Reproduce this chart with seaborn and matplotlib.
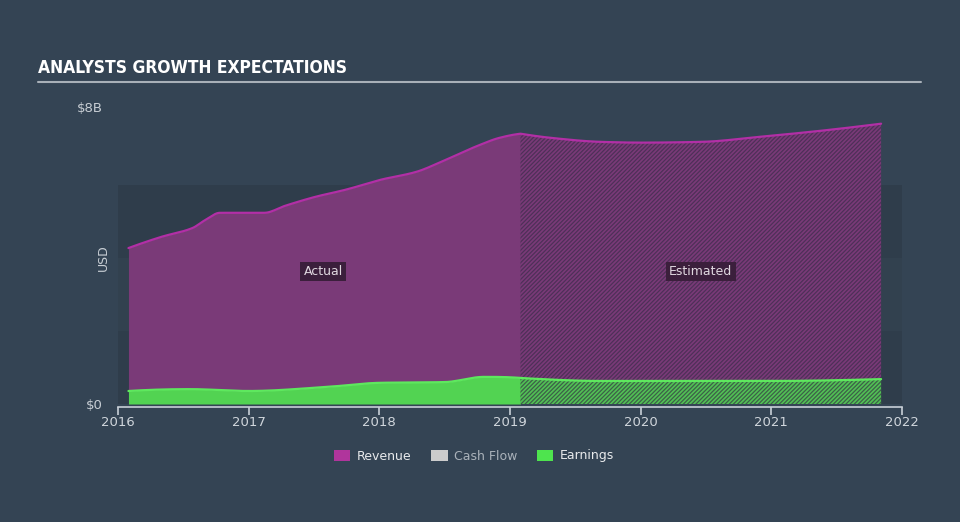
import numpy as np
import pandas as pd
import matplotlib
matplotlib.use("Agg")
import matplotlib.pyplot as plt
import seaborn as sns
from matplotlib.patches import Patch

# ---- data (values in $B) ----
rev_years = [2016.08, 2016.33, 2016.57, 2016.67, 2016.78, 2016.93, 2017.12, 2017.28,
             2017.51, 2017.74, 2018.01, 2018.28, 2018.51, 2018.77, 2018.92, 2019.08]
rev_vals = [4.20, 4.50, 4.74, 4.96, 5.15, 5.15, 5.15, 5.34,
            5.58, 5.77, 6.04, 6.25, 6.58, 6.98, 7.17, 7.28]
rev_est_years = [2019.08, 2019.31, 2019.70, 2020.00, 2020.46, 2020.92, 2021.38, 2021.84]
rev_est_vals = [7.28, 7.17, 7.06, 7.04, 7.06, 7.20, 7.36, 7.55]

earn_years = [2016.08, 2016.55, 2017.0, 2017.6, 2018.0, 2018.5, 2018.8, 2019.08]
earn_vals = [0.35, 0.40, 0.35, 0.46, 0.57, 0.59, 0.73, 0.70]
earn_est_years = [2019.08, 2019.7, 2020.5, 2021.0, 2021.84]
earn_est_vals = [0.70, 0.62, 0.62, 0.62, 0.67]

x_ticks = [2016, 2017, 2018, 2019, 2020, 2021, 2022]
legend_labels = ["Revenue", "Cash Flow", "Earnings"]

BG = "#344454"
BAND = "#2f3d4b"
REV_FILL = "#7a3a78"
REV_LINE = "#b22fa6"
EARN_FILL = "#52d352"
EARN_LINE = "#5ee85e"

sns.set_theme(style="dark")
plt.rcParams["font.family"] = ["DejaVu Sans"]
plt.rcParams["hatch.linewidth"] = 0.9

fig = plt.figure(figsize=(9.6, 5.22), dpi=100, facecolor=BG)
ax = fig.add_axes([118/960, (522-404)/522, 784/960, 297/522])
ax.set_facecolor(BG)

def smooth(xs, ys, n=200):
    xs = np.asarray(xs); ys = np.asarray(ys)
    xx = np.linspace(xs[0], xs[-1], n)
    s = pd.Series(ys, index=xs)
    s = s.reindex(np.union1d(xs, xx)).interpolate(method="pchip")
    return xx, s.loc[xx].values

# bands
ax.axhspan(0, 1.97, color=BAND, zorder=0, lw=0)
ax.axhspan(1.97, 3.93, color="#32414f", zorder=0, lw=0)
ax.axhspan(3.93, 5.9, color=BAND, zorder=0, lw=0)

rx, ry = smooth(rev_years, rev_vals)
rex, rey = smooth(rev_est_years, rev_est_vals)
ex, ey = smooth(earn_years, earn_vals)
eex, eey = smooth(earn_est_years, earn_est_vals)

# revenue actual
ax.fill_between(rx, np.interp(rx, ex, ey), ry, color=REV_FILL, lw=0, zorder=2)
# revenue estimate hatched
ax.fill_between(rex, np.interp(rex, eex, eey), rey, facecolor=REV_FILL, edgecolor="#4e3058",
                hatch="////////", lw=0, zorder=2)
# earnings
ax.fill_between(ex, 0, ey, color=EARN_FILL, lw=0, zorder=2)
ax.fill_between(eex, 0, eey, facecolor="#52c055", edgecolor="#3c6048", hatch="////////", lw=0, zorder=2)

df_rev = pd.DataFrame({"year": np.concatenate([rx, rex]), "val": np.concatenate([ry, rey])})
df_earn = pd.DataFrame({"year": np.concatenate([ex, eex]), "val": np.concatenate([ey, eey])})
sns.lineplot(data=df_rev, x="year", y="val", ax=ax, color=REV_LINE, lw=1.6, zorder=3, sort=False)
sns.lineplot(data=df_earn, x="year", y="val", ax=ax, color=EARN_LINE, lw=1.6, zorder=3, sort=False)

ax.set_xlim(2016, 2022)
ax.set_ylim(0, 8)
ax.set_xlabel("")
ax.set_ylabel("")
for s in ["top", "right", "left"]:
    ax.spines[s].set_visible(False)
ax.spines["bottom"].set_color("#c8d0d8")
ax.spines["bottom"].set_linewidth(1.2)
ax.spines["bottom"].set_position(("outward", 2))
ax.set_xticks(x_ticks)
ax.set_xticklabels([str(t) for t in x_ticks], color="#d0d6dc", fontsize=9.5)
ax.tick_params(axis="x", length=6, width=1.2, color="#c8d0d8", pad=1, bottom=True)
ax.set_yticks([0, 8])
ax.set_yticklabels(["$0", "$8B"], color="#c8ced4", fontsize=9.5)
ax.tick_params(axis="y", length=0, pad=11)
ax.grid(False)

# Actual / Estimated labels
box = dict(boxstyle="square,pad=0.25", fc="#3b1f3c", ec="none")
ax.text(2017.57, 3.57, "Actual", ha="center", va="center", color="#e0d8e0", fontsize=9, bbox=box, zorder=5)
ax.text(2020.46, 3.57, "Estimated", ha="center", va="center", color="#e0d8e0", fontsize=9, bbox=box, zorder=5)

fig.text(103/960, 1 - 258/522, "USD", rotation=90, ha="center", va="center", color="#c8ced4", fontsize=9)

# title
fig.text(38/960, 1 - 68/522, "ANALYSTS GROWTH EXPECTATIONS", ha="left", va="center",
         color="white", fontsize=12.5, fontweight="bold", fontstretch="condensed")
fig.add_artist(plt.Line2D([38/960, 921/960], [1 - 82/522, 1 - 82/522], color="#a8b0b8", lw=1.5))

# legend
handles = [Patch(facecolor="#b0359c", edgecolor="none"),
           Patch(facecolor="#cccccc", edgecolor="none"),
           Patch(facecolor="#4ee44e", edgecolor="none")]
leg = fig.legend(handles, legend_labels, loc="center", bbox_to_anchor=(474/960, 1 - 456/522), ncol=3,
                 frameon=False, fontsize=9, handlelength=1.3, handleheight=1.0, columnspacing=1.6,
                 handletextpad=0.5)
for t, c in zip(leg.get_texts(), ["#e8eaec", "#aab2ba", "#e8eaec"]):
    t.set_color(c)

fig.savefig("out.png", dpi=100, facecolor=BG)
